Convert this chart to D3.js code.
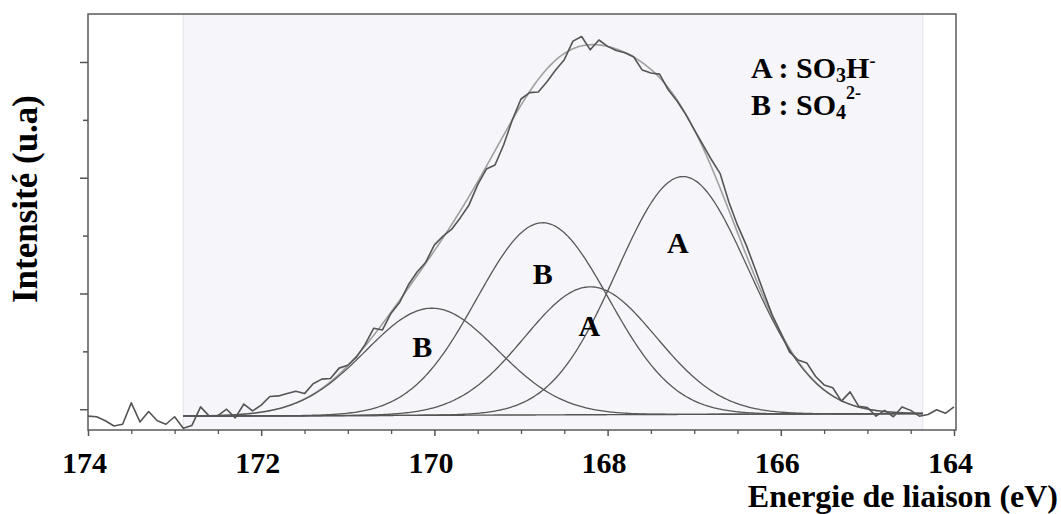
<!DOCTYPE html>
<html><head><meta charset="utf-8">
<script src="https://cdn.jsdelivr.net/npm/d3@7"></script>
<style>
body{margin:0;background:#fff}
svg{display:block}
text{font-family:"Liberation Serif","Times New Roman",serif;font-weight:bold;fill:#000}
</style>
</head><body>
<svg id="chart" width="1061" height="514"></svg>
<script>
// ---- data ----
const energy = [
174.0,173.9,173.8,173.7,173.6,173.5,173.4,173.3,173.2,173.1,
173.0,172.9,172.8,172.7,172.6,172.5,172.4,172.3,172.2,172.1,
172.0,171.9,171.8,171.7,171.6,171.5,171.4,171.3,171.2,171.1,
171.0,170.9,170.8,170.7,170.6,170.5,170.4,170.3,170.2,170.1,
170.0,169.9,169.8,169.7,169.6,169.5,169.4,169.3,169.2,169.1,
169.0,168.9,168.8,168.7,168.6,168.5,168.4,168.3,168.2,168.1,
168.0,167.9,167.8,167.7,167.6,167.5,167.4,167.3,167.2,167.1,
167.0,166.9,166.8,166.7,166.6,166.5,166.4,166.3,166.2,166.1,
166.0,165.9,165.8,165.7,165.6,165.5,165.4,165.3,165.2,165.1,
165.0,164.9,164.8,164.7,164.6,164.5,164.4,164.3,164.2,164.1,
164.0];
const intensity = [
-0.12,-0.13,-0.20,-0.29,-0.26,0.11,-0.22,-0.04,-0.20,-0.26,
-0.13,-0.33,-0.28,0.04,-0.12,-0.11,0.00,-0.15,0.09,-0.03,
0.07,0.22,0.23,0.27,0.31,0.27,0.44,0.52,0.53,0.71,
0.76,0.90,1.12,1.40,1.37,1.66,1.85,2.15,2.37,2.54,
2.84,2.99,3.11,3.31,3.53,3.88,4.15,4.22,4.57,5.00,
5.36,5.47,5.48,5.66,5.86,6.04,6.36,6.44,6.21,6.38,
6.27,6.20,6.16,6.09,5.86,5.81,5.79,5.52,5.33,5.10,
4.83,4.57,4.31,4.07,3.58,3.18,2.84,2.44,2.03,1.63,
1.32,0.99,0.85,0.80,0.57,0.42,0.37,0.14,0.30,0.05,
0.03,-0.12,-0.02,-0.13,0.04,-0.02,-0.12,-0.09,-0.01,-0.07,
0.04];

// fitted components (Gaussian peak fit)
const peakNames   = ["B", "A", "B", "A"];
const peakCenters = [170.03, 168.20, 168.75, 167.13];
const peakHeights = [1.85, 2.21, 3.32, 4.11];
const peakFwhm    = [1.79, 1.79, 1.79, 1.79];
const fitRange    = [172.9, 164.36];      // eV
const baselineEnds = [-0.12, -0.075];     // background at fitRange ends

// peak label anchors (eV, intensity)
const labelEnergy    = [170.14, 167.19, 168.75, 168.21];
const labelIntensity = [0.91, 2.70, 2.16, 1.26];
const labelText      = ["B", "A", "B", "A"];

const xTickValues = [174, 172, 170, 168, 166, 164];
const xMinorTicks = [173.5,173,172.5,171.5,171,170.5,169.5,169,168.5,167.5,167,166.5,165.5,165,164.5];
const yMajorTicks = [0, 2, 4, 6];
const yMinorTicks = [1, 3, 5];

const xTitle = "Energie de liaison (eV)";
const yTitle = "Intensité (u.a)";

// ---- layout ----
const svg = d3.select("#chart");
const L = 88, R = 954, T = 14, B = 430;
const x = d3.scaleLinear().domain([174, 164]).range([L, R]);
const y = d3.scaleLinear().domain([-0.359, 6.829]).range([B, T]);

svg.append("rect").attr("width",1061).attr("height",514).attr("fill","#fff");

// fit region shading
svg.append("rect")
  .attr("x", x(fitRange[0])).attr("y", T)
  .attr("width", x(fitRange[1]) - x(fitRange[0])).attr("height", B - T)
  .attr("fill", "#f5f5fa");
[fitRange[0], fitRange[1]].forEach(e => {
  svg.append("line").attr("x1", x(e)).attr("x2", x(e)).attr("y1", T).attr("y2", B)
    .attr("stroke", "#e2e2ea").attr("stroke-width", 1);
});

// model helpers
const bgAt = e => baselineEnds[0] + (baselineEnds[1]-baselineEnds[0]) * (fitRange[0]-e)/(fitRange[0]-fitRange[1]);
const gauss = (i, e) => {
  const s = peakFwhm[i] / 2.3548;
  return peakHeights[i] * Math.exp(-((e - peakCenters[i]) ** 2) / (2 * s * s));
};
const grid = d3.range(fitRange[0], fitRange[1] - 1e-9, -0.02).concat([fitRange[1]]);
const line = d3.line().x(d => x(d[0])).y(d => y(d[1]));

// envelope
svg.append("path")
  .attr("d", line(grid.map(e => [e, bgAt(e) + peakCenters.reduce((s, _, i) => s + gauss(i, e), 0)])))
  .attr("fill", "none").attr("stroke", "#a0a0a0").attr("stroke-width", 1.6);

// components
peakCenters.forEach((c, i) => {
  svg.append("path")
    .attr("d", line(grid.map(e => [e, bgAt(e) + gauss(i, e)])))
    .attr("fill", "none").attr("stroke", "#585858").attr("stroke-width", 1.3);
});

// baseline
svg.append("path")
  .attr("d", line(grid.map(e => [e, bgAt(e)])))
  .attr("fill", "none").attr("stroke", "#555").attr("stroke-width", 1.4);

// raw spectrum
svg.append("path")
  .attr("d", line(energy.map((e, i) => [e, intensity[i]])))
  .attr("fill", "none").attr("stroke", "#555").attr("stroke-width", 1.6)
  .attr("stroke-linejoin", "round");

// frame
svg.append("rect").attr("x", L).attr("y", T).attr("width", 956 - L).attr("height", B - T)
  .attr("fill", "none").attr("stroke", "#5a5a5a").attr("stroke-width", 1.5);

// x axis
const gx = svg.append("g").attr("transform", `translate(0,${B})`);
gx.call(d3.axisBottom(x).tickValues(xTickValues).tickSize(6).tickPadding(16).tickFormat(d3.format("d")));
gx.select(".domain").remove();
gx.selectAll(".tick line").attr("stroke", "#555").attr("stroke-width", 1.5);
gx.selectAll(".tick text").attr("font-size", 30).attr("dx", -4)
  .style("font-family", '"Liberation Serif","Times New Roman",serif').style("font-weight", "bold");
const gxm = svg.append("g").attr("transform", `translate(0,${B})`);
gxm.call(d3.axisBottom(x).tickValues(xMinorTicks).tickSize(4).tickFormat(""));
gxm.select(".domain").remove();
gxm.selectAll(".tick line").attr("stroke", "#555").attr("stroke-width", 1.3);

// y axis
const gy = svg.append("g").attr("transform", `translate(${L},0)`);
gy.call(d3.axisLeft(y).tickValues(yMajorTicks).tickSize(8).tickFormat(""));
gy.select(".domain").remove();
gy.selectAll(".tick line").attr("stroke", "#555").attr("stroke-width", 1.5);
const gym = svg.append("g").attr("transform", `translate(${L},0)`);
gym.call(d3.axisLeft(y).tickValues(yMinorTicks).tickSize(5).tickFormat(""));
gym.select(".domain").remove();
gym.selectAll(".tick line").attr("stroke", "#555").attr("stroke-width", 1.5);

// titles
svg.append("text").attr("x", 1058).attr("y", 507).attr("text-anchor", "end")
  .attr("font-size", 32).text(xTitle);
svg.append("text").attr("transform", "translate(37,199) rotate(-90)")
  .attr("text-anchor", "middle").attr("font-size", 35).text(yTitle);

// peak labels
labelText.forEach((t, i) => {
  svg.append("text").attr("x", x(labelEnergy[i])).attr("y", y(labelIntensity[i]))
    .attr("text-anchor", "middle").attr("font-size", 30).text(t);
});

// legend
const l1 = svg.append("text").attr("x", 751).attr("y", 78).attr("font-size", 30);
l1.append("tspan").text("A : SO");
l1.append("tspan").attr("font-size", 20).attr("dy", 4).text("3");
l1.append("tspan").attr("dy", -4).text("H");
l1.append("tspan").attr("font-size", 18).attr("dy", -11).text("-");
const l2 = svg.append("text").attr("x", 751).attr("y", 115).attr("font-size", 30);
l2.append("tspan").text("B : SO");
l2.append("tspan").attr("font-size", 20).attr("dy", 4).text("4");
l2.append("tspan").attr("font-size", 18).attr("dy", -20).text("2-");
</script>
</body></html>
